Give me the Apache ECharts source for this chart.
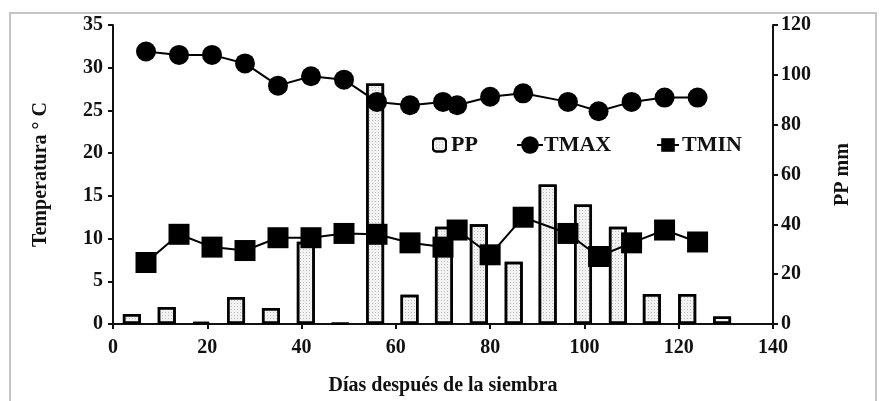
<!DOCTYPE html>
<html>
<head>
<meta charset="utf-8">
<script src="https://cdn.jsdelivr.net/npm/echarts@6/dist/echarts.min.js"></script>
<style>
  html, body { margin: 0; padding: 0; background: #fff; }
  #chart { width: 880px; height: 401px; }
</style>
</head>
<body>
<div id="chart"></div>
<script>
// precipitacion semanal (mm), eje derecho
var ppDays = [4.0, 11.4, 18.7, 26.1, 33.5, 40.9, 48.2, 55.6, 62.9, 70.2, 77.6, 85.0, 92.2, 99.7, 107.1, 114.3, 121.8, 129.2];
var ppMm = [4, 6.8, 0.8, 10.8, 6.4, 33, 0.3, 96.5, 11.7, 39, 40, 25, 56, 48, 39, 12, 12, 3];
// temperaturas (°C), eje izquierdo
var tDays = [7, 14, 21, 28, 35, 42, 49, 56, 63, 70, 73, 80, 87, 96.5, 103, 110, 117, 124];
var tMax = [31.9, 31.5, 31.5, 30.5, 27.9, 29.0, 28.6, 26.0, 25.6, 26.0, 25.6, 26.6, 27.0, 26.0, 24.9, 26.0, 26.5, 26.5];
var tMin = [7.2, 10.5, 9.0, 8.6, 10.1, 10.1, 10.6, 10.5, 9.5, 9.0, 11.0, 8.1, 12.5, 10.6, 7.9, 9.5, 11.0, 9.6];
var xTicks = [0, 20, 40, 60, 80, 100, 120, 140];

var font = '"Liberation Serif", "DejaVu Serif", serif';

function pairs(xs, ys) {
    var out = [];
    for (var i = 0; i < xs.length; i++) {
        out.push([xs[i], ys[i]]);
    }
    return out;
}

var axisText = { color: '#111', fontFamily: font, fontWeight: 'bold', fontSize: 20 };
var axisLine = { show: true, lineStyle: { color: '#111', width: 2 } };
var axisTick = { show: true, length: 5, lineStyle: { color: '#111', width: 2 } };

function legendItem(name, left, w, h, pad) {
    return {
        top: 129,
        left: left,
        data: [name],
        itemWidth: w,
        itemHeight: h,
        selectedMode: false,
        textStyle: { color: '#111', fontFamily: font, fontWeight: 'bold', fontSize: 22, padding: [0, 0, 0, pad] }
    };
}

var chart = echarts.init(document.getElementById('chart'));
chart.setOption({
    backgroundColor: '#fff',
    animation: false,
    graphic: [{
        type: 'rect',
        shape: { x: 10, y: 13, width: 866, height: 400 },
        style: { fill: 'none', stroke: '#c4c4c4', lineWidth: 2 },
        silent: true
    }],
    legend: [
        legendItem('PP', 427, 13, 13, 0),
        legendItem('TMAX', 511, 26, 22, -4),
        legendItem('TMIN', 651, 22, 17, -2)
    ],
    grid: { left: 113, right: 107, top: 25, bottom: 75 },
    xAxis: {
        type: 'value',
        min: 0,
        max: 140,
        interval: 20,
        name: 'Días después de la siembra',
        nameLocation: 'middle',
        nameGap: 52,
        nameTextStyle: axisText,
        axisLine: axisLine,
        axisTick: axisTick,
        axisLabel: Object.assign({ margin: 14, formatter: function (v) {
            return xTicks.indexOf(v) >= 0 ? v : '';
        } }, axisText),
        splitLine: { show: false }
    },
    yAxis: [{
        type: 'value',
        min: 0,
        max: 35,
        interval: 5,
        name: 'Temperatura ° C',
        nameLocation: 'middle',
        nameRotate: 90,
        nameGap: 62,
        nameTextStyle: axisText,
        axisLine: axisLine,
        axisTick: axisTick,
        axisLabel: Object.assign({ margin: 10 }, axisText),
        splitLine: { show: false }
    }, {
        type: 'value',
        position: 'right',
        min: 0,
        max: 120,
        interval: 20,
        name: 'PP mm',
        nameLocation: 'middle',
        nameRotate: 90,
        nameGap: 60,
        nameTextStyle: axisText,
        axisLine: axisLine,
        axisTick: axisTick,
        axisLabel: Object.assign({ margin: 8 }, axisText),
        splitLine: { show: false }
    }],
    series: [{
        name: 'PP',
        type: 'bar',
        yAxisIndex: 1,
        barWidth: 18,
        z: 1,
        itemStyle: {
            color: '#f2f2f2',
            borderColor: '#000',
            borderWidth: 2.5,
            decal: {
                symbol: 'rect',
                symbolSize: 1,
                dashArrayX: [1, 2],
                dashArrayY: [1, 2],
                color: 'rgba(0,0,0,0.22)'
            }
        },
        data: pairs(ppDays, ppMm)
    }, {
        name: 'TMAX',
        type: 'line',
        yAxisIndex: 0,
        symbol: 'circle',
        symbolSize: 20,
        z: 3,
        lineStyle: { color: '#000', width: 2 },
        itemStyle: { color: '#000' },
        data: pairs(tDays, tMax)
    }, {
        name: 'TMIN',
        type: 'line',
        yAxisIndex: 0,
        symbol: 'rect',
        symbolSize: 21,
        z: 3,
        lineStyle: { color: '#000', width: 2 },
        itemStyle: { color: '#000' },
        data: pairs(tDays, tMin)
    }]
});
</script>
</body>
</html>
